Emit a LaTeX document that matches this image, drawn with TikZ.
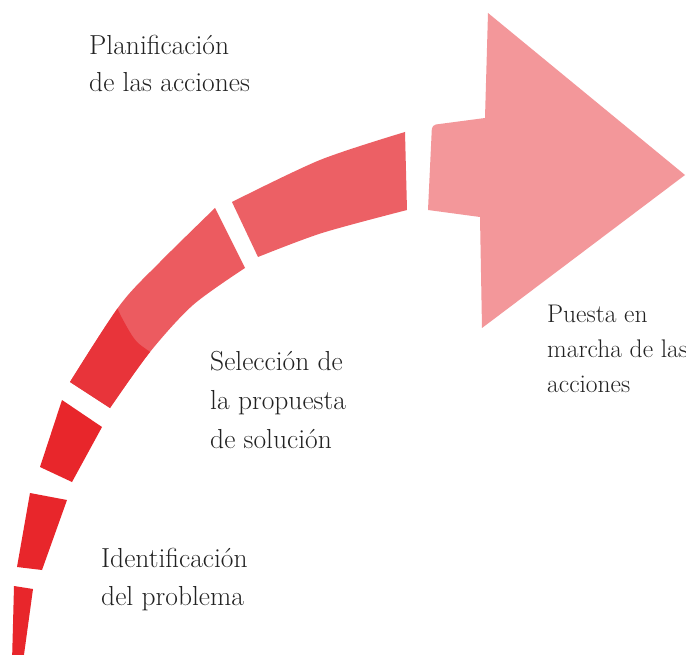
\documentclass[tikz,border=0pt]{standalone}
\definecolor{segred}{HTML}{E8262B}
\definecolor{segdark}{HTML}{E8343A}
\definecolor{seglight}{HTML}{EC5B60}
\definecolor{segfive}{HTML}{EC6065}
\definecolor{arrowpink}{HTML}{F3979A}
\definecolor{txtgray}{HTML}{222222}
\begin{document}
\begin{tikzpicture}[x=1pt,y=-1pt,
  lbl/.style={anchor=base west, inner sep=0pt, align=left, text=txtgray},
  lblfont/.style 2 args={font=\fontsize{#1}{#2}\selectfont}]
\useasboundingbox (0,0) rectangle (686,655);
\fill[white] (0,0) rectangle (686,655);
% lower segments
\fill[segred] (14,586) -- (33,589) -- (23,662) -- (12,662) -- cycle;
\fill[segred] (30,493) -- (67,500) -- (42,570) -- (17,567) -- cycle;
\fill[segred] (62,400) -- (102,427) -- (72,482) -- (40,467) -- cycle;
% fourth segment (two tones)
\fill[seglight] plot[smooth] coordinates {(70,382) (120,305) (160,262) (215,208)}
  -- plot[smooth] coordinates {(245,268) (193,305) (150,352) (110,408)} -- cycle;
\begin{scope}
  \clip plot[smooth] coordinates {(70,382) (120,305) (160,262) (215,208)}
    -- plot[smooth] coordinates {(245,268) (193,305) (150,352) (110,408)} -- cycle;
  \fill[segdark] plot[smooth] coordinates {(112,296) (122,318) (137,342) (160,358)}
    -- (170,430) -- (30,430) -- (40,296) -- cycle;
\end{scope}
% fifth segment
\fill[segfive] plot[smooth] coordinates {(232,202) (320,160) (405,132)}
  -- (407,210) -- plot[smooth] coordinates {(407,210) (322,233) (258,257)} -- cycle;
% arrow
\fill[arrowpink] (428,210) [rounded corners=4pt] -- (432,125) [sharp corners] -- (485,118)
  -- (488,13) -- (685,175) -- (482,328) -- (480,217) -- cycle;
% labels (base anchor = baseline of last line)
\node[lbl, lblfont={27.5}{37}] (plan) at (89,92) {Planificación\\de las acciones};
\node[lbl, lblfont={27.5}{39}] (sel) at (210,448) {Selección de\\la propuesta\\de solución};
\node[lbl, lblfont={25.5}{35}] (puesta) at (547,392) {Puesta en\\marcha de las\\acciones};
\node[lbl, lblfont={27.5}{38}] (ident) at (101,605) {Identificación\\del problema};
\end{tikzpicture}
\end{document}
